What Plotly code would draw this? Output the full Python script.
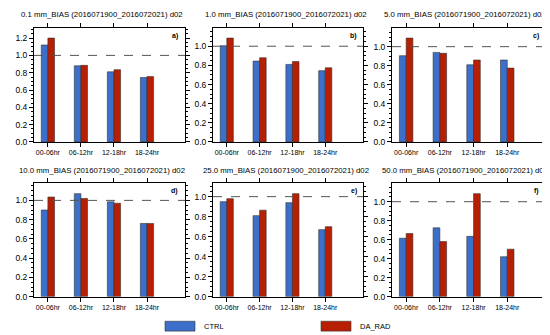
import plotly.graph_objects as go

categories = ["00-06hr", "06-12hr", "12-18hr", "18-24hr"]
thresholds = ["0.1", "1.0", "5.0", "10.0", "25.0", "50.0"]
panel_tags = ["a)", "b)", "c)", "d)", "e)", "f)"]

ctrl_a = [1.12, 0.88, 0.81, 0.745]
darad_a = [1.20, 0.885, 0.835, 0.755]
ctrl_b = [1.005, 0.845, 0.81, 0.745]
darad_b = [1.085, 0.88, 0.84, 0.775]
ctrl_c = [0.905, 0.94, 0.81, 0.86]
darad_c = [1.09, 0.93, 0.86, 0.775]
ctrl_d = [0.90, 1.07, 0.985, 0.76]
darad_d = [1.035, 1.02, 0.97, 0.76]
ctrl_e = [0.95, 0.81, 0.94, 0.67]
darad_e = [0.98, 0.865, 1.03, 0.70]
ctrl_f = [0.615, 0.725, 0.635, 0.42]
darad_f = [0.665, 0.58, 1.085, 0.50]

ctrl_all = [ctrl_a, ctrl_b, ctrl_c, ctrl_d, ctrl_e, ctrl_f]
darad_all = [darad_a, darad_b, darad_c, darad_d, darad_e, darad_f]

CTRL_COLOR = "#3b6fc9"
DARAD_COLOR = "#b81e02"
W, H = 550, 335

def px(x):
    return x / W

def py(y):
    return 1 - y / H

col_px = [(26, 177), (205, 355), (384, 538)]
row_px = [(20, 136), (178, 293)]
title_cx = [94, 278, 457]
title_cy = [7, 165]

fig = go.Figure()
FONT = "Liberation Sans, Arial, sans-serif"

for i in range(6):
    r, c = divmod(i, 3)
    n = "" if i == 0 else str(i + 1)
    xa, ya = "x" + n, "y" + n
    fig.add_trace(go.Bar(x=categories, y=ctrl_all[i], name="CTRL", marker=dict(color=CTRL_COLOR, line=dict(color="#333333", width=0.6)),
                         xaxis=xa, yaxis=ya, showlegend=False, offsetgroup="c"))
    fig.add_trace(go.Bar(x=categories, y=darad_all[i], name="DA_RAD", marker=dict(color=DARAD_COLOR, line=dict(color="#333333", width=0.6)),
                         xaxis=xa, yaxis=ya, showlegend=False, offsetgroup="d"))
    ymax = 1.1 * max(max(ctrl_all[i]), max(darad_all[i]))
    x0, x1 = col_px[c]
    y0, y1 = row_px[r]
    axis_common = dict(showline=True, linecolor="black", linewidth=1, mirror="allticks",
                       ticks="outside", tickcolor="black", ticklen=4, tickwidth=1,
                       showgrid=False, zeroline=False)
    fig.layout["xaxis" + n] = dict(domain=[px(x0), px(x1)], anchor=ya, type="category",
                                   range=[-0.42, 4.15], tickfont=dict(size=7, family=FONT, color="black"),
                                   **axis_common)
    fig.layout["yaxis" + n] = dict(domain=[py(y1), py(y0)], anchor=xa, range=[0, ymax],
                                   tick0=0, dtick=0.2, tickformat=".1f",
                                   tickfont=dict(size=8.5, family=FONT, color="black"),
                                   minor=dict(dtick=0.05, ticklen=2, ticks="outside", tickcolor="black"),
                                   **axis_common)
    fig.add_shape(type="line", xref=xa + " domain", yref=ya, x0=0, x1=1, y0=1.0, y1=1.0,
                  line=dict(color="#555555", width=1, dash="dash"))
    fig.add_annotation(text=f"{thresholds[i]} mm_BIAS (2016071900_2016072021) d02",
                       xref="paper", yref="paper", x=px(title_cx[c]), y=py(title_cy[r]),
                       xanchor="center", yanchor="middle", showarrow=False,
                       font=dict(size=7.8, family=FONT, color="black"))
    fig.add_annotation(text=f"<b>{panel_tags[i]}</b>", xref=xa + " domain", yref=ya + " domain",
                       x=0.97, y=0.93, xanchor="right", yanchor="middle", showarrow=False,
                       font=dict(size=7, family=FONT, color="black"))

# legend (drawn manually)
legend_items = [("CTRL", CTRL_COLOR, 157), ("DA_RAD", DARAD_COLOR, 313)]
for label, color, lx in legend_items:
    fig.add_shape(type="rect", xref="paper", yref="paper", x0=px(lx), x1=px(lx + 30),
                  y0=py(328), y1=py(318), fillcolor=color, line=dict(color="#333333", width=0.6))
    fig.add_annotation(text=label, xref="paper", yref="paper", x=px(lx + 37), y=py(323),
                       xanchor="left", yanchor="middle", showarrow=False,
                       font=dict(size=7.5, family=FONT, color="black"))

fig.update_layout(width=W, height=H, margin=dict(l=0, r=0, t=0, b=0),
                  paper_bgcolor="white", plot_bgcolor="white",
                  barmode="group", bargap=0.6, bargroupgap=0.0, showlegend=False)

fig.write_html("out.html")
